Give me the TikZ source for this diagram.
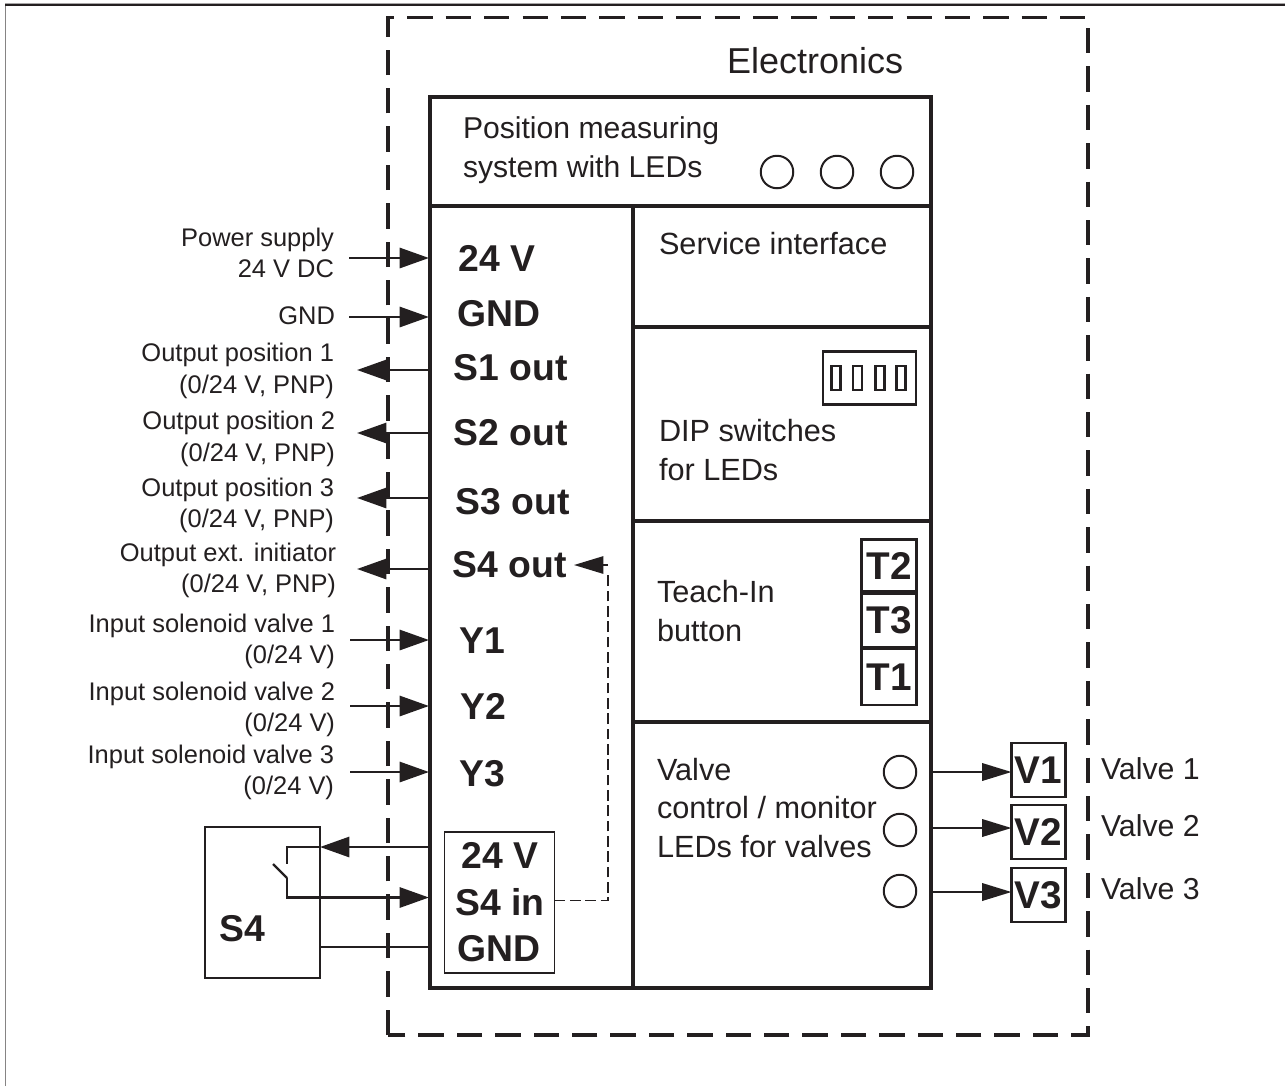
\documentclass[tikz,border=0pt]{standalone}
\usepackage{fontspec}
\setmainfont{Liberation Sans}
\usetikzlibrary{arrows.meta}
\definecolor{ink}{HTML}{231F20}
\tikzset{
  x=0.75pt,y=-0.75pt,
  every node/.style={text=ink,inner sep=0pt,outer sep=0pt},
  frameline/.style={draw=ink,line width=2.3pt},
  thin box/.style={draw=ink,line width=1.3pt},
  sig/.style={draw=ink,line width=2.2pt,-{Triangle[length=22pt,width=15pt]}},
  sigb/.style={draw=ink,line width=1.8pt,-{Triangle[length=22pt,width=13pt]}},
  lab/.style={font=\fontsize{19.1}{23.4}\selectfont,align=right,anchor=east},
  txt/.style={font=\fontsize{23}{29}\selectfont,align=left,anchor=west},
  pin/.style={font=\fontsize{28}{28}\selectfont\bfseries,anchor=center},
  led/.style={draw=ink,line width=1.5pt,circle,minimum size=32.5*0.75pt,anchor=center},
  tag/.style={draw=ink,line width=2pt,minimum width=54*0.75pt,minimum height=54*0.75pt,font=\fontsize{29}{29}\selectfont\bfseries,anchor=center},
}
\begin{document}
\begin{tikzpicture}
\useasboundingbox (0,0) rectangle (1285,1086);
% page frame
\draw[draw=ink!55,line width=1.2pt] (5.5,1086) -- (5.5,4);
\draw[draw=ink!40,line width=0.8pt] (5,3.5) -- (1285,3.5);
\draw[draw=ink,line width=1.2pt] (5,5) -- (1285,5);
% electronics dashed frame
\draw[draw=ink,line width=2.3pt,dash pattern=on 19pt off 9.8pt] (388,1035) -- (388,17.5) -- (1088,17.5) -- (1088,1035) -- cycle;
% main box
\draw[frameline] (430,97) rectangle (931,988);
\draw[frameline] (430,206) -- (931,206);
\draw[frameline] (633,206) -- (633,988);
\draw[frameline] (633,327) -- (931,327);
\draw[frameline] (633,521) -- (931,521);
\draw[frameline] (633,722) -- (931,722);
% texts
\node[font=\fontsize{27}{30}\selectfont,anchor=west] (etitle) at (727,61) {Electronics};
\node[txt,font=\fontsize{22.6}{29}\selectfont] (pos) at (463,150.5) {Position measuring\\system with LEDs};
\node[led] (p1) at (777,172) {};
\node[led] (p2) at (837,172) {};
\node[led] (p3) at (897,172) {};
\node[txt] (svc) at (659,244) {Service interface};
\node[txt] (dip) at (659,450) {DIP switches\\for LEDs};
\node[txt] (teach) at (657,611) {Teach-In\\button};
\node[txt] (vc) at (657,808) {Valve\\control / monitor\\LEDs for valves};
% DIP
\node[draw=ink,line width=2pt,minimum width=93*0.75pt,minimum height=53*0.75pt] (dipbox) at (869.5,378) {};
\foreach \xx in {836,857.5,880,901}{\draw[draw=ink,line width=1.7pt] (\xx-4.5,366) rectangle (\xx+4.5,390);}
% T buttons
\node[tag,minimum width=55*0.75pt,minimum height=52*0.75pt] (t2) at (889,565.5) {T2};
\node[tag,minimum width=55*0.75pt,minimum height=54*0.75pt] (t3) at (889,620.5) {T3};
\node[tag,minimum width=55*0.75pt,minimum height=56*0.75pt] (t1) at (889,677) {T1};
% pins
\node[pin] (p24) at (497,258) {24 V};
\node[pin] (pgnd) at (499,314) {GND};
\node[pin] (s1) at (511,368) {S1 out};
\node[pin] (s2) at (511,433) {S2 out};
\node[pin] (s3) at (513,502) {S3 out};
\node[pin] (s4) at (510,565) {S4 out};
\node[pin] (y1) at (482,641) {Y1};
\node[pin] (y2) at (483,706) {Y2};
\node[pin] (y3) at (482,774) {Y3};
% left labels
\node[lab] (l1) at (334,253) {Power supply\\24 V DC};
\node[lab] (l2) at (335,316) {GND};
\node[lab] (l3) at (334,371) {Output position 1\\(0/24 V, PNP)};
\node[lab] (l4) at (335,439) {Output position 2\\(0/24 V, PNP)};
\node[lab] (l5) at (334,505) {Output position 3\\(0/24 V, PNP)};
\node[lab] (l6) at (336,570) {Output ext. initiator\\(0/24 V, PNP)};
\node[lab] (l7) at (335,641) {Input solenoid valve 1\\(0/24 V)};
\node[lab] (l8) at (335,709) {Input solenoid valve 2\\(0/24 V)};
\node[lab] (l9) at (334,772) {Input solenoid valve 3\\(0/24 V)};
% left connectors
\coordinate (w1) at (429,258); \coordinate (o1) at (349,258);
\coordinate (w2) at (429,317); \coordinate (o2) at (349,317);
\coordinate (w3) at (430,370); \coordinate (o3) at (357,370);
\coordinate (w4) at (430,433); \coordinate (o4) at (357,433);
\coordinate (w5) at (430,498); \coordinate (o5) at (357,498);
\coordinate (w6) at (430,569); \coordinate (o6) at (357,569);
\coordinate (w7) at (429,640); \coordinate (o7) at (350,640);
\coordinate (w8) at (429,706); \coordinate (o8) at (350,706);
\coordinate (w9) at (429,772); \coordinate (o9) at (350,772);
\foreach \n in {1,2,7,8,9}{\draw[sig] (o\n) -- (w\n);}
\foreach \n in {3,4,5,6}{\draw[sig] (w\n) -- (o\n);}
% S4
\node[thin box,minimum width=115*0.75pt,minimum height=151*0.75pt] (sbox) at (262.5,902.5) {};
\node[font=\fontsize{28}{28}\selectfont\bfseries] (s4l) at (242,929) {S4};
\coordinate (a1) at (430,847); \coordinate (a2) at (320,847);
\draw[sig] (a1) -- (a2);
\coordinate (sw1) at (287,847); \coordinate (sw2) at (287,864);
\draw[draw=ink,line width=2.2pt] (a2) -- (sw1) -- (sw2);
\coordinate (sw3) at (273,864); \coordinate (sw4) at (287,878); \coordinate (sw5) at (287,897.5); \coordinate (sw6) at (429,897.5);
\draw[draw=ink,line width=1.8pt] (sw3) -- (sw4);
\draw[sig] (sw4) -- (sw5) -- (sw6);
\coordinate (g1) at (320,947); \coordinate (g2) at (430,947);
\draw[draw=ink,line width=2.2pt] (g1) -- (g2);
% inner box
\node[thin box,minimum width=110*0.75pt,minimum height=141*0.75pt] (ibox) at (499.5,902.5) {};
\node[pin] (i1) at (500,855) {24 V};
\node[pin] (i2) at (500,902) {S4 in};
\node[pin] (i3) at (499,949) {GND};
% dashed
\coordinate (d1) at (608,900.5); \coordinate (d2) at (608,565); \coordinate (d3) at (608,574);
\draw[draw=ink,line width=1.3pt,dash pattern=on 8pt off 3.5pt] (ibox.east |- d1) -- (d1) -- (d3);
\draw[sigb,line width=1.3pt] (d2) -- (574,565);
% LEDs valves
\node[led] (v1l) at (900,772) {};
\node[led] (v2l) at (900,830) {};
\node[led] (v3l) at (900,891) {};
\node[tag] (v1) at (1038.5,770) {V1};
\node[tag] (v2) at (1038.5,832) {V2};
\node[tag] (v3) at (1038.5,895) {V3};
\coordinate (va1) at (931,772); \coordinate (va2) at (931,828); \coordinate (va3) at (931,892);
\draw[sigb] (va1) -- (va1 -| v1.west);
\draw[sigb] (va2) -- (va2 -| v2.west);
\draw[sigb] (va3) -- (va3 -| v3.west);
\node[txt,font=\fontsize{22.7}{29}\selectfont] (n1) at (1101,769) {Valve 1};
\node[txt,font=\fontsize{22.7}{29}\selectfont] (n2) at (1101,826) {Valve 2};
\node[txt,font=\fontsize{22.7}{29}\selectfont] (n3) at (1101,889) {Valve 3};
\end{tikzpicture}
\end{document}
